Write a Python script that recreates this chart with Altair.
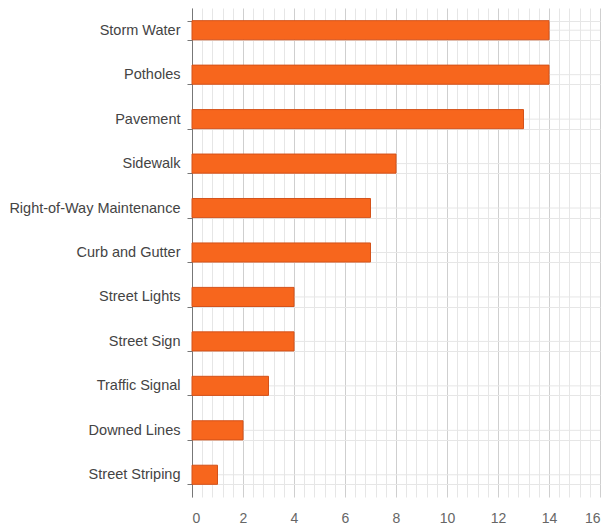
import altair as alt
import pandas as pd

categories = ["Storm Water", "Potholes", "Pavement", "Sidewalk",
              "Right-of-Way Maintenance", "Curb and Gutter", "Street Lights",
              "Street Sign", "Traffic Signal", "Downed Lines", "Street Striping"]
counts = [14, 14, 13, 8, 7, 7, 4, 4, 3, 2, 1]
x_grid_values = [round(i * 0.4, 1) for i in range(41)]

df = pd.DataFrame({"category": categories, "count": counts})

y_enc = alt.Y("category:N", sort=categories, title=None,
              scale=alt.Scale(paddingInner=0.57, paddingOuter=0.285),
              axis=alt.Axis(tickBand="extent", grid=True, gridColor="#e6e6e6",
                            domainColor="#777", tickColor="#777", tickSize=5,
                            labelPadding=7, labelFont="Liberation Sans",
                            labelFontSize=14.5, labelColor="#444",
                            labelLimit=300))
x_enc = alt.X("count:Q", title=None,
              scale=alt.Scale(domain=[0, 16], nice=False),
              axis=alt.Axis(values=x_grid_values, domain=False, ticks=False,
                            gridColor=alt.expr("datum.value % 2 === 0 ? '#cfcfcf' : '#e6e6e6'"),
                            labelExpr="datum.value % 2 === 0 ? format(datum.value, 'd') : ''",
                            labelFont="Liberation Sans", labelFontSize=14,
                            labelColor="#666", labelPadding=14))

base = alt.Chart(df)
center_rules = base.mark_rule(color="#e6e6e6", strokeWidth=1).encode(
    y=alt.Y("category:N", sort=categories, title=None))
bars = base.mark_bar(color="#f7661d", stroke="#d4521a", strokeWidth=1).encode(
    y=y_enc, x=x_enc)

chart = alt.layer(bars.mark_bar(opacity=0), center_rules, bars).properties(
    width=408, height=489,
    padding={"top": -8, "left": 0, "right": 0, "bottom": 0}
).configure_view(stroke=None)

chart.save("out.html", embed_options={"renderer": "svg", "actions": False})
